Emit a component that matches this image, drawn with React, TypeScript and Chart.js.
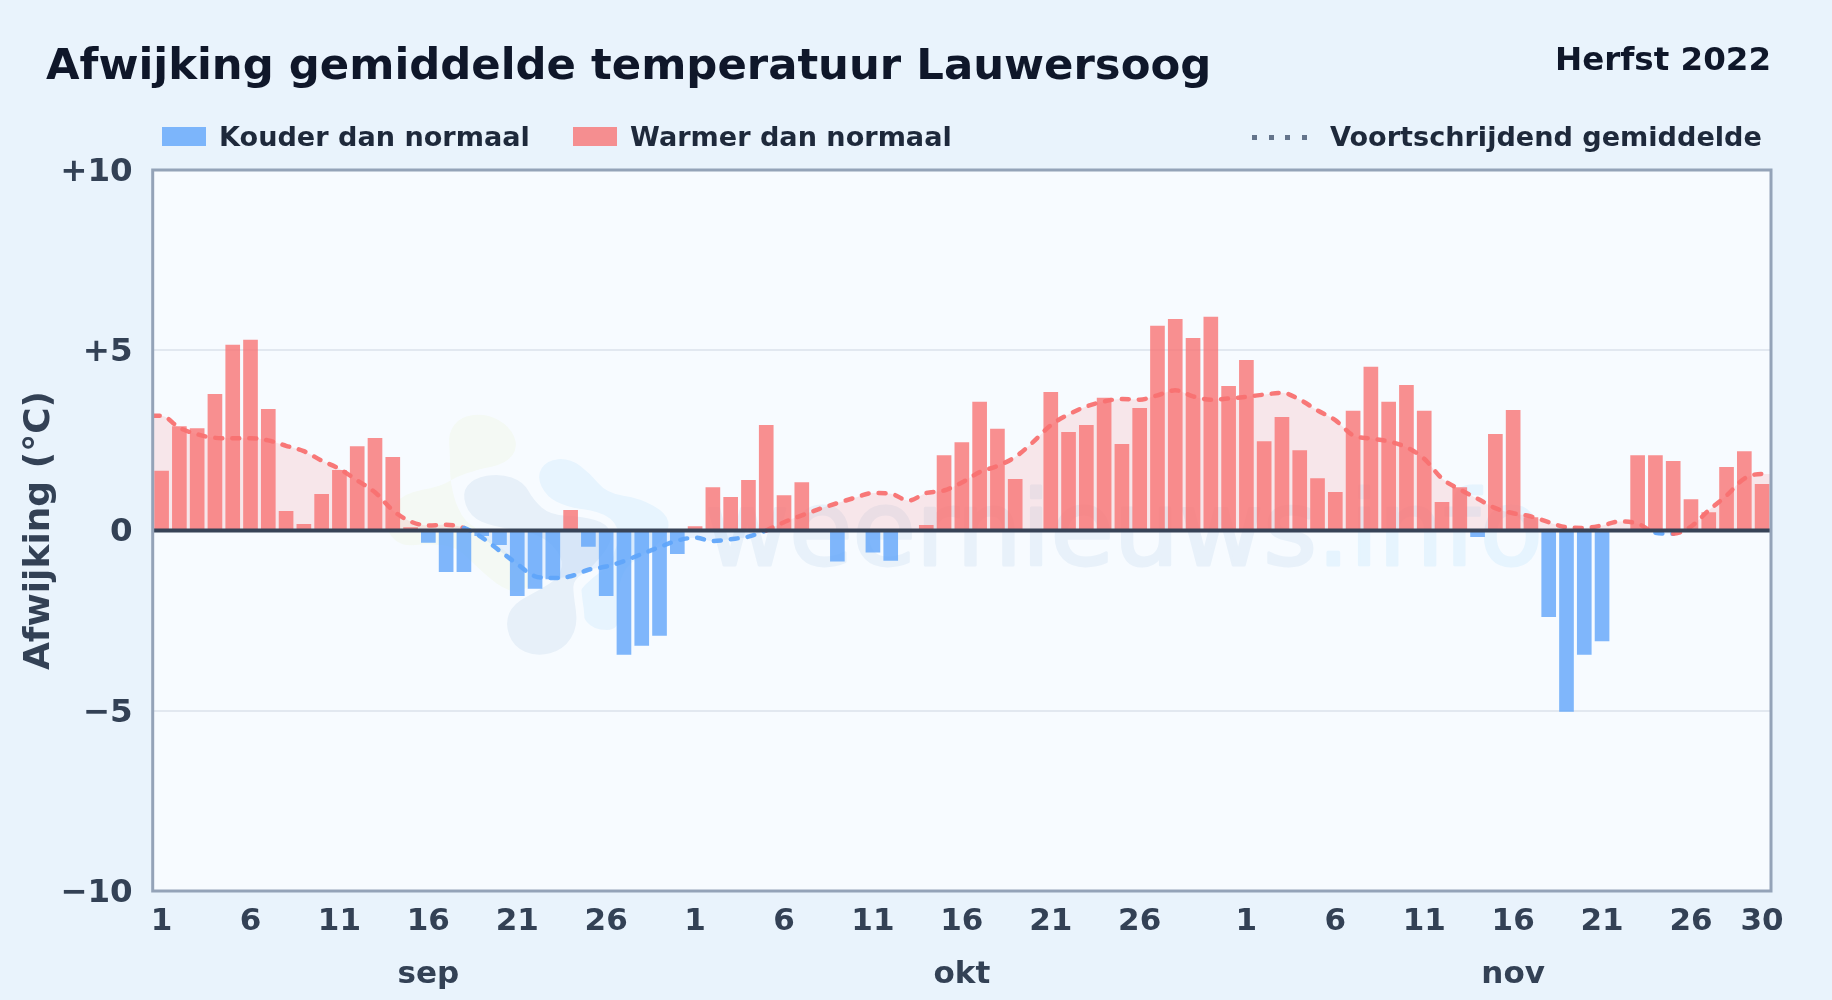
import React, { useEffect, useRef } from "react";
import { Chart, registerables } from "chart.js";

Chart.register(...registerables);

const titleText = "Afwijking gemiddelde temperatuur Lauwersoog";
const periodText = "Herfst 2022";
const coldLabel = "Kouder dan normaal";
const warmLabel = "Warmer dan normaal";
const avgLabel = "Voortschrijdend gemiddelde";
const yTitle = "Afwijking (°C)";
const watermarkA = "weernieuws";
const watermarkB = ".info";

const sepDeviation = [1.65, 2.88, 2.83, 3.78, 5.14, 5.28, 3.36, 0.53, 0.17, 1.0, 1.67, 2.33, 2.56, 2.03, 0.08, -0.33, -1.14, -1.14, -0.14, -0.39, -1.81, -1.61, -1.34, 0.56, -0.44, -1.81, -3.44, -3.19, -2.91, -0.64];
const oktDeviation = [0.11, 1.19, 0.92, 1.39, 2.92, 0.97, 1.33, 0, -0.85, 0, -0.6, -0.83, 0, 0.14, 2.08, 2.44, 3.56, 2.81, 1.42, 0, 3.83, 2.72, 2.92, 3.67, 2.39, 3.39, 5.67, 5.86, 5.33, 5.92, 4.0];
const novDeviation = [4.72, 2.47, 3.14, 2.22, 1.44, 1.06, 3.31, 4.53, 3.56, 4.03, 3.31, 0.78, 1.19, -0.17, 2.67, 3.33, 0.36, -2.39, -5.02, -3.44, -3.06, 0, 2.08, 2.08, 1.92, 0.86, 0.5, 1.75, 2.19, 1.28];

const sepAverage = [3.18, 2.85, 2.67, 2.57, 2.56, 2.56, 2.5, 2.35, 2.2, 1.94, 1.71, 1.39, 1.06, 0.56, 0.25, 0.14, 0.16, 0.07, -0.19, -0.56, -0.93, -1.27, -1.32, -1.27, -1.09, -1.0, -0.85, -0.65, -0.46, -0.28];
const oktAverage = [-0.2, -0.29, -0.24, -0.17, 0, 0.23, 0.42, 0.6, 0.76, 0.91, 1.04, 1.02, 0.83, 1.04, 1.11, 1.33, 1.62, 1.79, 2.04, 2.45, 2.92, 3.22, 3.44, 3.58, 3.65, 3.63, 3.75, 3.89, 3.72, 3.63, 3.66];
const novAverage = [3.71, 3.77, 3.82, 3.63, 3.33, 3.06, 2.64, 2.55, 2.47, 2.31, 1.99, 1.44, 1.14, 0.88, 0.62, 0.48, 0.39, 0.23, 0.09, 0.07, 0.14, 0.25, 0.19, -0.06, -0.09, 0.11, 0.56, 0.97, 1.44, 1.57];

const tickDaysSep = [1, 6, 11, 16, 21, 26];
const tickDaysOkt = [1, 6, 11, 16, 21, 26];
const tickDaysNov = [1, 6, 11, 16, 21, 26, 30];
const monthNames = ["sep", "okt", "nov"];
const monthLengths = [30, 31, 30];
const yTickLabels: Record<string, string> = { "10": "+10", "5": "+5", "0": "0", "-5": "−5", "-10": "−10" };

// Watermark logo outlines (decoration, not data)
const logoGreen = [[265, 100], [300, 50], [380, 40], [450, 80], [475, 140], [440, 190], [350, 210], [290, 230], [240, 260], [130, 280], [85, 340], [80, 400], [130, 440], [200, 430], [290, 440], [350, 500], [430, 570], [500, 580], [520, 520], [420, 440], [300, 350], [270, 250], [270, 160]];
const logoBlue = [[530, 230], [560, 180], [630, 175], [690, 220], [740, 280], [840, 295], [920, 340], [930, 390], [880, 450], [790, 500], [770, 600], [780, 690], [700, 690], [660, 640], [650, 580], [700, 530], [760, 490], [770, 400], [720, 340], [620, 320], [560, 290]];
const logoGrey = [[305, 280], [340, 235], [420, 220], [490, 245], [520, 300], [570, 345], [670, 350], [740, 370], [760, 420], [700, 500], [640, 540], [640, 580], [655, 680], [610, 750], [530, 770], [460, 740], [435, 670], [460, 610], [540, 570], [600, 530], [610, 470], [540, 400], [400, 380], [330, 350]];

const FONT = "'DejaVu Sans', sans-serif";
const deviations = [...sepDeviation, ...oktDeviation, ...novDeviation];
const averages = [...sepAverage, ...oktAverage, ...novAverage];
const dayPositions = deviations.map((_, i) => i + 1);
const monthStarts = [0, monthLengths[0], monthLengths[0] + monthLengths[1]];
const tickLabelByPosition = new Map<number, string | string[]>();
[tickDaysSep, tickDaysOkt, tickDaysNov].forEach((days, m) => {
  days.forEach((d) => {
    tickLabelByPosition.set(monthStarts[m] + d, d === 16 ? [String(d), monthNames[m]] : String(d));
  });
});
const avgPoints = [
  { x: 0.5, y: averages[0] },
  ...averages.map((y, i) => ({ x: dayPositions[i], y })),
  { x: dayPositions.length + 0.5, y: averages[averages.length - 1] },
];

function smoothPath(c: CanvasRenderingContext2D, outline: number[][]) {
  const pts = outline.map((p) => [360 + p[0] / 3, 400 + p[1] / 3]);
  const n = pts.length;
  c.beginPath();
  c.moveTo((pts[n - 1][0] + pts[0][0]) / 2, (pts[n - 1][1] + pts[0][1]) / 2);
  for (let i = 0; i < n; i++) {
    const q = pts[(i + 1) % n];
    c.quadraticCurveTo(pts[i][0], pts[i][1], (pts[i][0] + q[0]) / 2, (pts[i][1] + q[1]) / 2);
  }
  c.closePath();
}

const decorPlugin = {
  id: "decor",
  beforeDraw(chart: any) {
    const { ctx: c, chartArea: a } = chart;
    c.save();
    c.fillStyle = "#f7fbff";
    c.fillRect(a.left, a.top, a.width, a.height);
    c.beginPath();
    c.rect(a.left, a.top, a.width, a.height);
    c.clip();
    smoothPath(c, logoGreen);
    c.fillStyle = "#f4f9f4";
    c.fill();
    smoothPath(c, logoBlue);
    c.fillStyle = "#e7f4fe";
    c.fill();
    smoothPath(c, logoGrey);
    c.strokeStyle = "#f7fbff";
    c.lineWidth = 16;
    c.lineJoin = "round";
    c.stroke();
    c.fillStyle = "#e7f0f9";
    c.fill();
    c.font = `103px ${FONT}`;
    c.textBaseline = "alphabetic";
    c.textAlign = "left";
    c.lineWidth = 3;
    c.lineJoin = "round";
    c.fillStyle = "#e8f1fa";
    c.strokeStyle = "#e8f1fa";
    c.fillText(watermarkA, 705, 565);
    c.strokeText(watermarkA, 705, 565);
    const w = c.measureText(watermarkA).width;
    c.fillStyle = "#e6f4fe";
    c.strokeStyle = "#e6f4fe";
    c.fillText(watermarkB, 705 + w, 565);
    c.strokeText(watermarkB, 705 + w, 565);
    c.restore();
  },
  afterDatasetsDraw(chart: any) {
    const { ctx: c, chartArea: a, scales } = chart;
    const y = scales.y.getPixelForValue(0);
    c.save();
    c.strokeStyle = "#374357";
    c.lineWidth = 4;
    c.beginPath();
    c.moveTo(a.left, y);
    c.lineTo(a.right, y);
    c.stroke();
    c.restore();
  },
  afterDraw(chart: any) {
    const { ctx: c, chartArea: a } = chart;
    c.save();
    c.strokeStyle = "#94a3b8";
    c.lineWidth = 3;
    c.strokeRect(a.left, a.top, a.width, a.height);
    c.restore();
  },
};

const txt: React.CSSProperties = { position: "absolute", fontFamily: FONT, fontWeight: 700, whiteSpace: "nowrap", lineHeight: "1" };

export default function App() {
  const ref = useRef<HTMLCanvasElement>(null);
  useEffect(() => {
    document.body.style.margin = "0";
    const chart = new Chart(ref.current as HTMLCanvasElement, {
      type: "bar",
      data: {
        datasets: [
          {
            type: "bar",
            label: coldLabel,
            data: deviations.map((v, i) => ({ x: dayPositions[i], y: v < 0 ? v : null })),
            backgroundColor: "rgba(96,165,250,0.8)",
            barThickness: 14,
            grouped: false,
            order: 2,
          },
          {
            type: "bar",
            label: warmLabel,
            data: deviations.map((v, i) => ({ x: dayPositions[i], y: v > 0 ? v : null })),
            backgroundColor: "rgba(248,113,113,0.78)",
            barThickness: 14,
            grouped: false,
            order: 2,
          },
          {
            type: "line",
            label: "fill",
            data: avgPoints,
            borderWidth: 0,
            pointRadius: 0,
            cubicInterpolationMode: "monotone",
            fill: { target: { value: 0 }, above: "rgba(248,113,113,0.15)", below: "rgba(96,165,250,0.12)" },
            order: 3,
          },
          {
            type: "line",
            label: avgLabel,
            data: avgPoints,
            borderWidth: 4.5,
            borderColor: "rgba(248,113,113,0.95)",
            borderDash: [7, 10],
            borderCapStyle: "round",
            pointRadius: 0,
            cubicInterpolationMode: "monotone",
            fill: false,
            segment: {
              borderColor: (s: any) => (s.p0.parsed.y + s.p1.parsed.y) / 2 < 0 ? "rgba(96,165,250,0.95)" : "rgba(248,113,113,0.95)",
            },
            order: 1,
          },
        ] as any,
      },
      options: {
        animation: false,
        responsive: false,
        devicePixelRatio: 1,
        layout: { padding: { top: 170, right: 61, left: 0, bottom: 0 } },
        plugins: { legend: { display: false }, title: { display: false }, tooltip: { enabled: false } },
        scales: {
          x: {
            type: "linear",
            min: 0.5,
            max: dayPositions.length + 0.5,
            offset: false,
            grid: { display: false },
            border: { display: false },
            afterBuildTicks: (s: any) => {
              s.ticks = [...tickLabelByPosition.keys()].map((value) => ({ value }));
            },
            afterFit: (s: any) => {
              s.height = 109;
            },
            ticks: {
              autoSkip: false,
              maxRotation: 0,
              minRotation: 0,
              padding: -3,
              color: "#334155",
              font: { family: FONT, weight: "bold", size: 31, lineHeight: 1.7 },
              callback: (v: any) => tickLabelByPosition.get(v) ?? "",
            },
          },
          y: {
            min: -10,
            max: 10,
            border: { display: false },
            grid: {
              drawTicks: false,
              lineWidth: 2,
              color: (ctx: any) => (Math.abs(ctx.tick.value) === 5 ? "#e2e8f0" : "rgba(0,0,0,0)"),
            },
            afterFit: (s: any) => {
              s.width = 152.7;
            },
            title: {
              display: true,
              text: yTitle,
              color: "#334155",
              padding: { top: 18, bottom: 0 },
              font: { family: FONT, weight: "bold", size: 36, lineHeight: 1.2 },
            },
            ticks: {
              stepSize: 5,
              padding: 20,
              color: "#334155",
              font: { family: FONT, weight: "bold", size: 32.5, lineHeight: 0.15 },
              callback: (v: any) => ["", yTickLabels[String(v)] ?? ""],
            },
          },
        },
      } as any,
      plugins: [decorPlugin],
    });
    return () => chart.destroy();
  }, []);

  return (
    <div style={{ position: "absolute", left: 0, top: 0, width: 1832, height: 1000, overflow: "hidden", background: "#e9f3fc" }}>
      <canvas ref={ref} width={1832} height={1000} style={{ position: "absolute", left: 0, top: 0, width: 1832, height: 1000 }} />
      <div style={{ ...txt, left: 46, top: 43, fontSize: 43.35, color: "#0f172a" }}>{titleText}</div>
      <div style={{ ...txt, right: 61, top: 43, fontSize: 32.5, color: "#0f172a" }}>{periodText}</div>
      <div style={{ position: "absolute", left: 162, top: 127, width: 44, height: 19, background: "rgba(96,165,250,0.8)" }} />
      <div style={{ ...txt, left: 219, top: 122.5, fontSize: 27.1, color: "#1e293b" }}>{coldLabel}</div>
      <div style={{ position: "absolute", left: 573, top: 127, width: 44, height: 19, background: "rgba(248,113,113,0.78)" }} />
      <div style={{ ...txt, left: 630, top: 122.5, fontSize: 27.1, color: "#1e293b" }}>{warmLabel}</div>
      <div style={{ position: "absolute", left: 1252, top: 135, display: "flex", gap: 11.6 }}>
        {[0, 1, 2, 3].map((k) => (
          <div key={k} style={{ width: 5, height: 5, background: "#64748b" }} />
        ))}
      </div>
      <div style={{ ...txt, left: 1330, top: 122.5, fontSize: 27.1, color: "#1e293b" }}>{avgLabel}</div>
    </div>
  );
}
